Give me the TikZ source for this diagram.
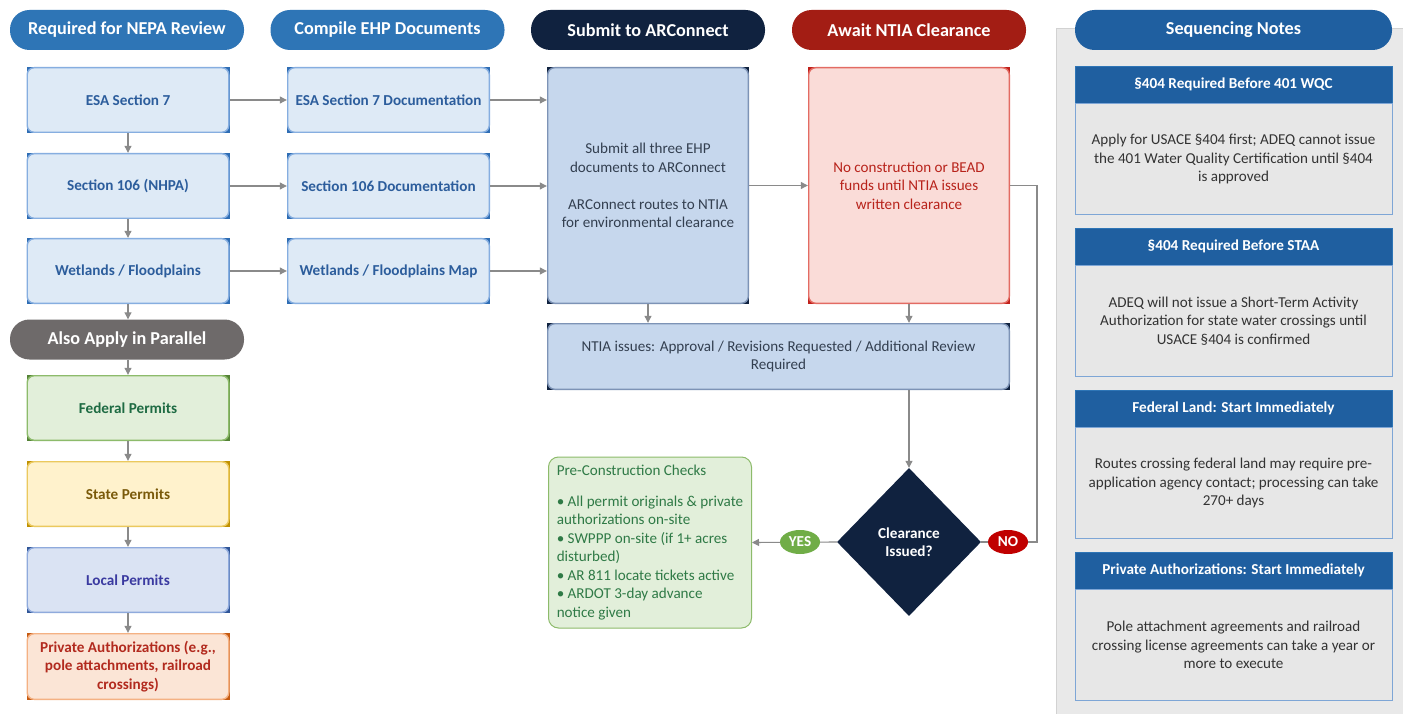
\documentclass[tikz,border=0pt]{standalone}
\usepackage{fontspec}
\setmainfont{Carlito}
\usetikzlibrary{arrows.meta,shapes.geometric,calc}
\definecolor{pillblue}{HTML}{2E75B6}
\definecolor{seqblue}{HTML}{1F5FA0}
\definecolor{navy}{HTML}{10223F}
\definecolor{darkred}{HTML}{A31D14}
\definecolor{pillgray}{HTML}{6E6A6A}
\definecolor{lbfill}{HTML}{DEEAF6}
\definecolor{lbedge}{HTML}{86AEE0}
\definecolor{lbcorner}{HTML}{2E6DB4}
\definecolor{lbtext}{HTML}{2C5D9C}
\definecolor{subfill}{HTML}{C6D7ED}
\definecolor{subedge}{HTML}{7D93B6}
\definecolor{subtext}{HTML}{333F50}
\definecolor{redfill}{HTML}{FADCD8}
\definecolor{rededge}{HTML}{E36B63}
\definecolor{redcorner}{HTML}{C0201A}
\definecolor{redtext}{HTML}{B8231B}
\definecolor{gfill}{HTML}{E2EFDA}
\definecolor{gedge}{HTML}{8DBB6B}
\definecolor{gcorner}{HTML}{548235}
\definecolor{gtext}{HTML}{1E6B43}
\definecolor{pretext}{HTML}{2F7A46}
\definecolor{yfill}{HTML}{FFF2CC}
\definecolor{yedge}{HTML}{EBC95E}
\definecolor{ycorner}{HTML}{BF9000}
\definecolor{ytext}{HTML}{7A5A0A}
\definecolor{lfill}{HTML}{DAE3F3}
\definecolor{ledge}{HTML}{8FAADC}
\definecolor{lcorner}{HTML}{2F5597}
\definecolor{ltext}{HTML}{3A3AA0}
\definecolor{ofill}{HTML}{FBE5D6}
\definecolor{oedge}{HTML}{F4B183}
\definecolor{ocorner}{HTML}{C55A11}
\definecolor{otext}{HTML}{B22A1E}
\definecolor{panel}{HTML}{E9E9E9}
\definecolor{panelborder}{HTML}{D2D2D2}
\definecolor{cardbody}{HTML}{E7E7E7}
\definecolor{cardedge}{HTML}{7EA6D6}
\definecolor{cardtext}{HTML}{333333}
\definecolor{conn}{HTML}{8A8A8A}
\definecolor{yesgreen}{HTML}{70AD47}
\definecolor{nored}{HTML}{C00000}
\newcommand\myhead{\fontsize{18.2}{22}\selectfont\bfseries}
\newcommand\mybold{\fontsize{15.2}{18.5}\selectfont\bfseries}
\newcommand\mytext{\fontsize{15.1}{18.5}\selectfont}
\begin{document}
\begin{tikzpicture}[x=1pt,y=-1pt,
  pill/.style={rectangle, rounded corners=19.5pt, minimum width=234pt, minimum height=40pt, inner sep=0pt, text=white, font=\myhead},
  sbox/.style n args={4}{rectangle, inner sep=0pt, minimum width=203pt, minimum height=66pt, fill=#1,
     path picture={\filldraw[fill=#2, draw=#3, line width=1.4pt, rounded corners=7pt]
       ([shift={(0.7pt,-0.7pt)}]path picture bounding box.north west) rectangle
       ([shift={(-0.7pt,0.7pt)}]path picture bounding box.south east);},
     text=#4, align=center, font=\mybold},
  bluebox/.style={sbox={lbcorner}{lbfill}{lbedge}{lbtext}},
  arr/.style={draw=conn, line width=1.1pt, -{Triangle[length=7pt,width=7pt]}},
  line/.style={draw=conn, line width=1.1pt},
  cardhead/.style={rectangle, fill=seqblue, draw=pillblue, line width=0.6pt, minimum width=317pt, minimum height=37pt, inner sep=0pt, text=white, font=\mybold},
  cardbox/.style={rectangle, fill=cardbody, draw=cardedge, line width=0.8pt, minimum width=317pt, minimum height=111pt, inner sep=0pt, text=cardtext, font=\mytext, align=center},
  lab/.style={ellipse, minimum width=40pt, minimum height=24pt, inner sep=0pt, text=white, font=\mybold}
]
\useasboundingbox (0,0) rectangle (1403,714);
\fill[white] (0,0) rectangle (1403,714);
% side panel
\filldraw[fill=panel, draw=panelborder, line width=0.8pt] (1056,28) rectangle (1410,720);

% header pills
\node[pill, fill=pillblue] (hnepa) at (127,30) {Required for NEPA Review};
\node[pill, fill=pillblue] (hehp) at (387.5,30) {Compile EHP Documents};
\node[pill, fill=navy] (hsub) at (648,30) {Submit to ARConnect};
\node[pill, fill=darkred] (hawait) at (909,30) {Await NTIA Clearance};
\node[pill, fill=seqblue, minimum width=317pt] (hseq) at (1233.5,30) {Sequencing Notes};

% column 1
\node[bluebox] (esa) at (128,100) {ESA Section 7};
\node[bluebox] (s106) at (128,186) {Section 106 (NHPA)};
\node[bluebox] (wet) at (128,271) {Wetlands / Floodplains};
\node[pill, fill=pillgray] (par) at (127,339.5) {Also Apply in Parallel};
\node[sbox={gcorner}{gfill}{gedge}{gtext}] (fed) at (128,408) {Federal Permits};
\node[sbox={ycorner}{yfill}{yedge}{ytext}] (state) at (128,494) {State Permits};
\node[sbox={lcorner}{lfill}{ledge}{ltext}] (local) at (128,580) {Local Permits};
\node[sbox={ocorner}{ofill}{oedge}{otext}, minimum height=67pt] (priv) at (128,666.5) {Private Authorizations (e.g.,\\pole attachments, railroad\\crossings)};

% column 2
\node[bluebox] (esadoc) at (388.5,100) {ESA Section 7 Documentation};
\node[bluebox] (s106doc) at (388.5,186) {Section 106 Documentation};
\node[bluebox] (wetdoc) at (388.5,271) {Wetlands / Floodplains Map};

% column 3 / 4
\node[sbox={navy}{subfill}{subedge}{subtext}, minimum width=202pt, minimum height=237pt, font=\mytext] (sub) at (648,185.5)
  {Submit all three EHP\\documents to ARConnect\\~\\ARConnect routes to NTIA\\for environmental clearance};
\node[sbox={redcorner}{redfill}{rededge}{redtext}, minimum width=202pt, minimum height=237pt, font=\mytext] (await) at (909,185.5)
  {No construction or BEAD\\funds until NTIA issues\\written clearance};
\node[sbox={navy}{subfill}{subedge}{subtext}, minimum width=463pt, minimum height=67pt, font=\mytext] (ntia) at (778.5,356.5)
  {NTIA issues: Approval / Revisions Requested / Additional Review\\Required};

\node[diamond, aspect=1, fill=navy, minimum width=144pt, minimum height=148pt, inner sep=0pt, text=white, font=\mybold, align=center] (dia) at (909,542) {Clearance\\Issued?};

\node[rectangle, rounded corners=10pt, fill=gfill, draw=gedge, line width=1pt, minimum width=203pt, minimum height=171pt, inner sep=0pt, text=pretext, font=\mytext, align=left] (pre) at (650,542.5)
  {Pre-Construction Checks\\[12.5pt]\textbullet{} All permit originals \& private\\authorizations on-site\\\textbullet{} SWPPP on-site (if 1+ acres\\disturbed)\\\textbullet{} AR 811 locate tickets active\\\textbullet{} ARDOT 3-day advance\\notice given};

% sequencing cards
\node[cardhead] (h1) at (1233.5,84.5) {§404 Required Before 401 WQC};
\node[cardbox, anchor=north] (b1) at (h1.south) {Apply for USACE §404 first; ADEQ cannot issue\\the 401 Water Quality Certification until §404\\is approved};
\node[cardhead] (h2) at (1233.5,246.5) {§404 Required Before STAA};
\node[cardbox, anchor=north] (b2) at (h2.south) {ADEQ will not issue a Short-Term Activity\\Authorization for state water crossings until\\USACE §404 is confirmed};
\node[cardhead] (h3) at (1233.5,408.5) {Federal Land: Start Immediately};
\node[cardbox, anchor=north] (b3) at (h3.south) {Routes crossing federal land may require pre-\\application agency contact; processing can take\\270+ days};
\node[cardhead] (h4) at (1233.5,570.5) {Private Authorizations: Start Immediately};
\node[cardbox, anchor=north] (b4) at (h4.south) {Pole attachment agreements and railroad\\crossing license agreements can take a year or\\more to execute};

% connectors column 1
\draw[arr] (esa.south) -- (s106.north);
\draw[arr] (s106.south) -- (wet.north);
\draw[arr] (wet.south) -- (wet.south |- par.north);
\draw[arr] (fed.north |- par.south) -- (fed.north);
\draw[arr] (fed.south) -- (state.north);
\draw[arr] (state.south) -- (local.north);
\draw[arr] (local.south) -- (priv.north);
% horizontal
\draw[arr] (esa.east) -- (esadoc.west);
\draw[arr] (s106.east) -- (s106doc.west);
\draw[arr] (wet.east) -- (wetdoc.west);
\draw[arr] (esadoc.east) -- (esadoc.east -| sub.west);
\draw[arr] (s106doc.east) -- (s106doc.east -| sub.west);
\draw[arr] (wetdoc.east) -- (wetdoc.east -| sub.west);
\draw[arr] (sub.east) -- (await.west);
\draw[arr] (sub.south) -- (sub.south |- ntia.north);
\draw[arr] (await.south) -- (await.south |- ntia.north);
\draw[arr] (dia.north |- ntia.south) -- (dia.north);
% yes / no
\coordinate (nocorner) at (1037,542);
\draw[line] (dia.east) -- (nocorner) |- (await.east);
\draw[arr] (dia.west) -- (pre.east);
\node[lab, fill=yesgreen] (yes) at (800,542) {YES};
\node[lab, fill=nored] (no) at (1008,542) {NO};
\end{tikzpicture}
\end{document}
